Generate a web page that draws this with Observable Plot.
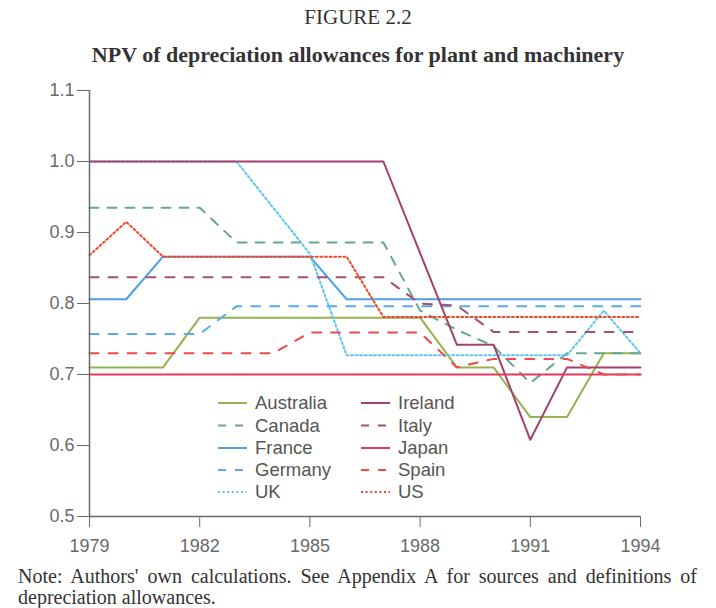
<!DOCTYPE html>
<html><head><meta charset="utf-8">
<script src="https://cdn.jsdelivr.net/npm/d3@7"></script>
<script src="https://cdn.jsdelivr.net/npm/@observablehq/plot@0.6"></script>
<style>
body{margin:0;background:#fff;}
#wrap{position:relative;width:716px;height:608px;overflow:hidden;background:#fff;}
.t{position:absolute;left:0;width:716px;text-align:center;font-family:"Liberation Serif","Times New Roman",serif;color:#333;white-space:nowrap;}
#note{position:absolute;left:18px;top:566px;width:679px;font-family:"Liberation Serif","Times New Roman",serif;color:#333;font-size:20px;line-height:21px;text-align:justify;}
#legend{position:absolute;left:0;top:0;}
</style></head><body>
<div id="wrap">
<div id="chart" style="position:absolute;left:0;top:70px;"></div>
<svg id="legend" width="716" height="608"></svg>
<div class="t" style="top:5px;font-size:21px;">FIGURE 2.2</div>
<div class="t" style="top:42px;font-size:22px;font-weight:bold;">NPV of depreciation allowances for plant and machinery</div>
<div id="note">Note: Authors' own calculations. See Appendix A for sources and definitions of depreciation allowances.</div>
</div>
<script>
// ---- data ----
const years = [1979,1980,1981,1982,1983,1984,1985,1986,1987,1988,1989,1990,1991,1992,1993,1994];
const australia = [0.71,0.71,0.71,0.78,0.78,0.78,0.78,0.78,0.78,0.78,0.71,0.71,0.64,0.64,0.73,0.73];
const canada    = [0.935,0.935,0.935,0.935,0.886,0.886,0.886,0.886,0.886,0.79,0.763,0.74,0.688,0.73,0.73,0.73];
const france    = [0.806,0.806,0.866,0.866,0.866,0.866,0.866,0.806,0.806,0.806,0.806,0.806,0.806,0.806,0.806,0.806];
const germany   = [0.757,0.757,0.757,0.757,0.796,0.796,0.796,0.796,0.796,0.796,0.796,0.796,0.796,0.796,0.796,0.796];
const uk        = [1.0,1.0,1.0,1.0,1.0,0.935,0.87,0.727,0.727,0.727,0.727,0.727,0.727,0.727,0.79,0.73];
const ireland   = [1.0,1.0,1.0,1.0,1.0,1.0,1.0,1.0,1.0,0.871,0.742,0.742,0.608,0.71,0.71,0.71];
const italy     = [0.837,0.837,0.837,0.837,0.837,0.837,0.837,0.837,0.837,0.80,0.797,0.76,0.76,0.76,0.76,0.76];
const japan     = [0.70,0.70,0.70,0.70,0.70,0.70,0.70,0.70,0.70,0.70,0.70,0.70,0.70,0.70,0.70,0.70];
const spain     = [0.73,0.73,0.73,0.73,0.73,0.73,0.759,0.759,0.759,0.759,0.71,0.722,0.722,0.722,0.70,0.70];
const us        = [0.868,0.915,0.866,0.866,0.866,0.866,0.866,0.866,0.781,0.781,0.781,0.781,0.781,0.781,0.781,0.781];
const countries = ["Australia","Canada","France","Germany","UK","Ireland","Italy","Japan","Spain","US"];
const values = [australia,canada,france,germany,uk,ireland,italy,japan,spain,us];
const xTicks = [1979,1982,1985,1988,1991,1994];
const yTicks = [0.5,0.6,0.7,0.8,0.9,1.0,1.1];

// ---- styles ----
const styles = {
  Australia:{stroke:"#93b352", dash:null},
  Canada:{stroke:"#63a88c", dash:"9,9"},
  France:{stroke:"#4f9fe6", dash:null},
  Germany:{stroke:"#5aaae8", dash:"9,10"},
  UK:{stroke:"#5cc4f4", dash:"2,2.6"},
  Ireland:{stroke:"#a4406c", dash:null},
  Italy:{stroke:"#a44f73", dash:"9,10"},
  Japan:{stroke:"#e8385a", dash:null},
  Spain:{stroke:"#ee4a4a", dash:"9,10"},
  US:{stroke:"#f0472c", dash:"2,2.6"}
};

const series = countries.map((c,i)=>({name:c, data: years.map((y,j)=>({year:y, value:values[i][j]}))}));

const lineMarks = series.map(s => Plot.line(s.data, {
  x:"year", y:"value", stroke: styles[s.name].stroke, strokeWidth: 2,
  strokeDasharray: styles[s.name].dash || undefined, curve:"linear"
}));

const plot = Plot.plot({
  width:716, height:500,
  marginLeft:89, marginRight:76, marginTop:20, marginBottom:54,
  style:{fontFamily:"'Liberation Sans', Arial, sans-serif", fontSize:"18px", background:"transparent"},
  x:{domain:[1979,1994], label:null},
  y:{domain:[0.5,1.1], label:null},
  marks:[
    Plot.axisX({ticks:xTicks, tickFormat:d=>String(d), tickSize:11, tickPadding:12, color:"#6a6a6a", fontSize:18, label:null}),
    Plot.axisY({ticks:yTicks, tickFormat:d3.format(".1f"), tickSize:12, tickPadding:3, color:"#6a6a6a", fontSize:18, label:null}),
    ...lineMarks,
    Plot.ruleX([1979], {stroke:"#6a6a6a", strokeWidth:1.5}),
    Plot.ruleY([0.5], {stroke:"#6a6a6a", strokeWidth:1.5})
  ]
});
document.getElementById("chart").appendChild(plot);

// ---- legend ----
const leg = d3.select("#legend");
const colX = [218, 361];
const rowY = [403, 425.5, 448, 470, 492];
countries.forEach((c,i)=>{
  const col = Math.floor(i/5), row = i%5;
  const x0 = colX[col], y0 = rowY[row];
  leg.append("line").attr("x1",x0).attr("x2",x0+29).attr("y1",y0).attr("y2",y0)
    .attr("stroke",styles[c].stroke).attr("stroke-width",2)
    .attr("stroke-dasharray",styles[c].dash ? (styles[c].dash.startsWith("2")? "2,2.6" : "8,9") : null);
  leg.append("text").attr("x",x0+37).attr("y",y0).attr("dy","0.35em")
    .attr("font-family","'Liberation Sans', Arial, sans-serif").attr("font-size",18.5)
    .attr("fill","#555").text(c);
});
</script>
</body></html>
